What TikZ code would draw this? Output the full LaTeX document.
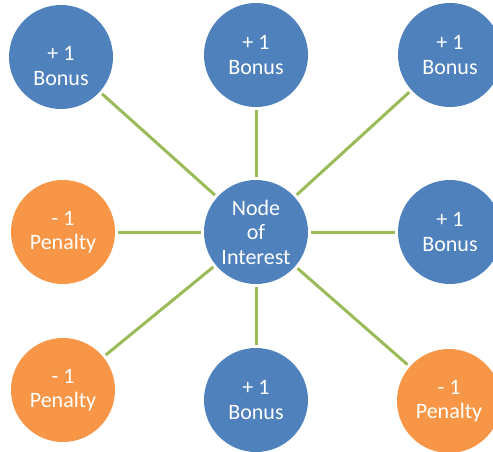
\documentclass[tikz,border=0pt]{standalone}
\usepackage{fontspec}
\setmainfont{Carlito}
\usetikzlibrary{positioning}
\definecolor{bonusblue}{HTML}{4F81BD}
\definecolor{penaltyorange}{HTML}{F79646}
\definecolor{linkgreen}{HTML}{9BBB59}

\begin{document}
\begin{tikzpicture}[x=1pt,y=-1pt,shorten >=3pt,shorten <=3pt,
  main node/.style={circle,minimum size=104pt,inner sep=0pt,text=white,align=center,font=\fontsize{22}{24.5}\selectfont},
  bonus node/.style={main node,fill=bonusblue},
  penalty node/.style={main node,fill=penaltyorange},
  every edge/.style={draw=linkgreen,line width=3pt}]

		\useasboundingbox (0,0) rectangle (493,452);

		\node[bonus node] at (256,232) (c) {Node\\ of\\ Interest};
		\node[bonus node, text height=57pt] at (61,57) (1) {+ 1\\ Bonus};
		\node[bonus node] at (256,55) (2) {+ 1\\ Bonus};
		\node[bonus node] at (450,55) (3) {+ 1\\ Bonus};
		\node[penalty node] at (63,232) (4) {- 1\\ Penalty};
		\node[bonus node] at (450,232) (5) {+ 1\\ Bonus};
		\node[penalty node] at (63,390) (6) {- 1\\ Penalty};
		\node[bonus node] at (256,400) (7) {+ 1\\ Bonus};
		\node[penalty node] at (449,401) (8) {- 1\\ Penalty};

		\path
		(c) edge (1)
		(c) edge (2)
		(c) edge (3)
		(c) edge (4)
		(c) edge (5)
		(c) edge (6)
		(c) edge (7)
		(c) edge (8)
		;

\end{tikzpicture}
\end{document}
